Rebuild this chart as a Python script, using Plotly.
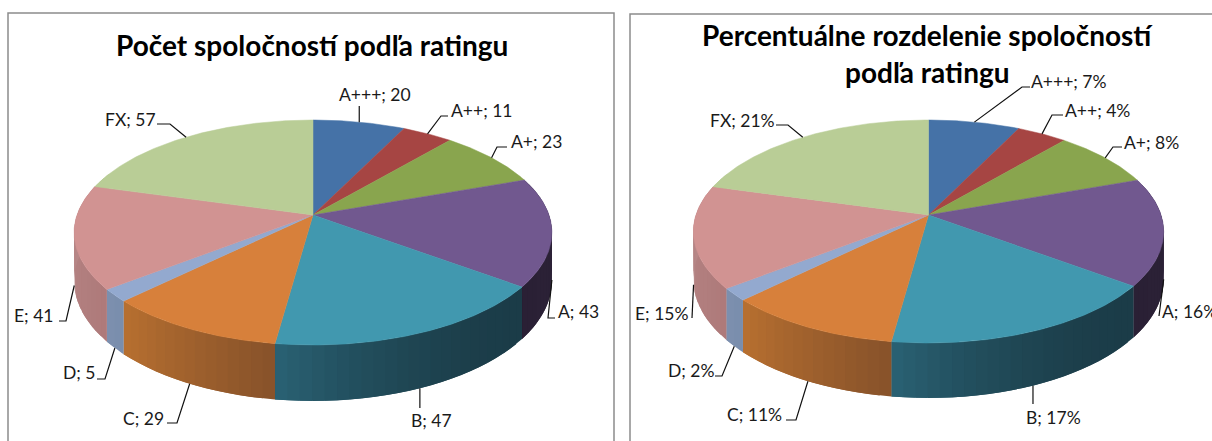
import math
import plotly.graph_objects as go

# ---- data ----
categories = ["A+++", "A++", "A+", "A", "B", "C", "D", "E", "FX"]
counts = [20, 11, 23, 43, 47, 29, 5, 41, 57]
percents = [7, 4, 8, 16, 17, 11, 2, 15, 21]
title_left = "Počet spoločností podľa ratingu"
title_right = ["Percentuálne rozdelenie spoločností", "podľa ratingu"]

# ---- styles ----
top_colors = ["#4572A7", "#A64543", "#89A54E", "#71588F", "#4198AF", "#D7803B", "#93A9CF", "#D19392", "#B9CD96"]
wall_start = ["#4572A7", "#A64543", "#89A54E", "#2E2439", "#1B3C48", "#87522A", "#7A8DAD", "#AE7A7A", "#B9CD96"]
wall_end = ["#4572A7", "#A64543", "#89A54E", "#2A2035", "#2A6274", "#B87030", "#7C90AE", "#BA8B8B", "#B9CD96"]
wall_pow = [1, 1, 1, 1, 2.2, 1, 1, 1, 1]

FONT = "Lato"
LABEL_SIZE = 17.5
TEXT = "#1a1a1a"

left_geom = dict(cx=313.0, cy=215.0, R=236.0, back=95.0, front=130.0, depth=56.0)
right_geom = dict(cx=928.5, cy=215.0, R=232.6, back=95.0, front=128.0, depth=55.0)

# label layout: text left x, text centre y, leader elbow points (from anchor towards text)
left_layout = [
    (337, 94, [(None, 106)]),
    (449, 110, [(441, 116), (448, 116)]),
    (509, 141, [(497, 147), (507, 147)]),
    (556, 311, [(548, 318), (555, 318)]),
    (409, 420, [(None, 408)]),
    (121, 418, [(177, 423), (167, 423)]),
    (61, 372, [(105, 379), (97, 379)]),
    (12, 315, [(66, 321), (59, 321)]),
    (103, 119, [(170, 124), (157, 124)]),
]
right_layout = [
    (1029, 81, [(1022, 87), (1030, 87)]),
    (1063, 110, [(1052, 115), (1063, 115)]),
    (1122, 142, [(1113, 147), (1122, 147)]),
    (1160, 311, [(1159, 316)]),
    (1024, 417, [(None, 404)]),
    (725, 414, [(796, 420), (786, 420)]),
    (666, 370, [(722, 376), (715, 376)]),
    (633, 313, [(692, 318)]),
    (708, 120, [(788, 125), (776, 125)]),
]


def mix(a, b, t):
    ca = [int(a[i:i + 2], 16) for i in (1, 3, 5)]
    cb = [int(b[i:i + 2], 16) for i in (1, 3, 5)]
    return "rgb(%d,%d,%d)" % tuple(round(x + (y - x) * t) for x, y in zip(ca, cb))


def project(g, deg, lower=0.0):
    """Perspective projection of a point on the pie rim (deg clockwise from 12 o'clock)."""
    p = (g["front"] - g["back"]) / (g["front"] + g["back"])
    a = g["back"] * (1 + p)
    h = g["depth"] * (1 - p)
    th = math.radians(deg)
    X, Y = math.sin(th), math.cos(th)
    den = 1 + p * Y
    return g["cx"] + g["R"] * X / den, g["cy"] + (-a * Y + h * lower) / den


def draw_pie(fig, g, values, labels, layout_rows):
    total = sum(values)
    edges = [0.0]
    for v in values:
        edges.append(edges[-1] + v / total * 360)

    # side wall, front half only; each strip overlaps the next so no seams show
    for i in range(len(values)):
        a0, a1 = edges[i], edges[i + 1]
        n = max(1, int((a1 - a0) / 2.5))
        step = (a1 - a0) / n
        for k in range(n):
            s0 = a0 + step * k
            s1 = min(a1, s0 + step * 2)
            if math.cos(math.radians(s0 + step / 2)) > 0.35:
                continue
            m = 8
            arc = [s0 + (s1 - s0) * j / m for j in range(m + 1)]
            p = [project(g, d, 0) for d in arc] + [project(g, d, 1) for d in reversed(arc)]
            p.append(p[0])
            t = ((k + 0.5) / n) ** wall_pow[i]
            col = mix(wall_start[i], wall_end[i], t)
            fig.add_trace(go.Scatter(x=[q[0] for q in p], y=[q[1] for q in p], mode="lines", fill="toself",
                                     fillcolor=col, line=dict(color=col, width=0), hoverinfo="skip",
                                     showlegend=False))

    # top face
    for i in range(len(values)):
        a0, a1 = edges[i], edges[i + 1]
        n = max(2, int((a1 - a0) * 2))
        rim = [project(g, a0 + (a1 - a0) * k / n) for k in range(n + 1)]
        xs = [g["cx"]] + [q[0] for q in rim] + [g["cx"]]
        ys = [g["cy"]] + [q[1] for q in rim] + [g["cy"]]
        fig.add_trace(go.Scatter(x=xs, y=ys, mode="lines", fill="toself", fillcolor=top_colors[i],
                                 line=dict(color=top_colors[i], width=0.5), hoverinfo="skip",
                                 name=categories[i], showlegend=False))

    # leaders and labels
    for i, text in enumerate(labels):
        mid = (edges[i] + edges[i + 1]) / 2
        lower = 1 if math.cos(math.radians(mid)) < 0 else 0
        ax, ay = project(g, mid, lower)
        tx, ty, elbow = layout_rows[i]
        xs, ys = [ax], [ay]
        for ex, ey in elbow:
            xs.append(ax if ex is None else ex)
            ys.append(ey)
        fig.add_trace(go.Scatter(x=xs, y=ys, mode="lines", line=dict(color="#111111", width=1.2),
                                 hoverinfo="skip", showlegend=False))
        fig.add_annotation(x=tx, y=ty, xref="x", yref="y", text=text, showarrow=False, xanchor="left",
                           yanchor="middle", font=dict(family=FONT, size=LABEL_SIZE, color=TEXT))


fig = go.Figure()
draw_pie(fig, left_geom, counts, [f"{c}; {v}" for c, v in zip(categories, counts)], left_layout)
draw_pie(fig, right_geom, counts, [f"{c}; {v}%" for c, v in zip(categories, percents)], right_layout)

title_font = dict(family=FONT, size=28, color="#000000")
fig.add_annotation(x=312, y=45, xref="x", yref="y", text="<b>%s</b>" % title_left, showarrow=False, font=title_font)
fig.add_annotation(x=927, y=35, xref="x", yref="y", text="<b>%s</b>" % title_right[0], showarrow=False, font=title_font)
fig.add_annotation(x=927, y=72, xref="x", yref="y", text="<b>%s</b>" % title_right[1], showarrow=False, font=title_font)

frame = dict(color="#8C8C8C", width=1.5)
fig.add_shape(type="rect", x0=8, y0=13, x1=614, y1=470, xref="x", yref="y", line=frame, layer="below")
fig.add_shape(type="rect", x0=630, y0=14, x1=1300, y1=470, xref="x", yref="y", line=frame, layer="below")

fig.update_layout(
    width=1212, height=441, autosize=False,
    margin=dict(l=0, r=0, t=0, b=0), paper_bgcolor="white", plot_bgcolor="white", showlegend=False,
    xaxis=dict(range=[0, 1212], visible=False, fixedrange=True),
    yaxis=dict(range=[441, 0], visible=False, fixedrange=True),
)
fig.write_html("out.html", config={"displayModeBar": False, "staticPlot": True},
               post_script="document.body.style.margin='0';document.body.style.overflow='hidden';")
